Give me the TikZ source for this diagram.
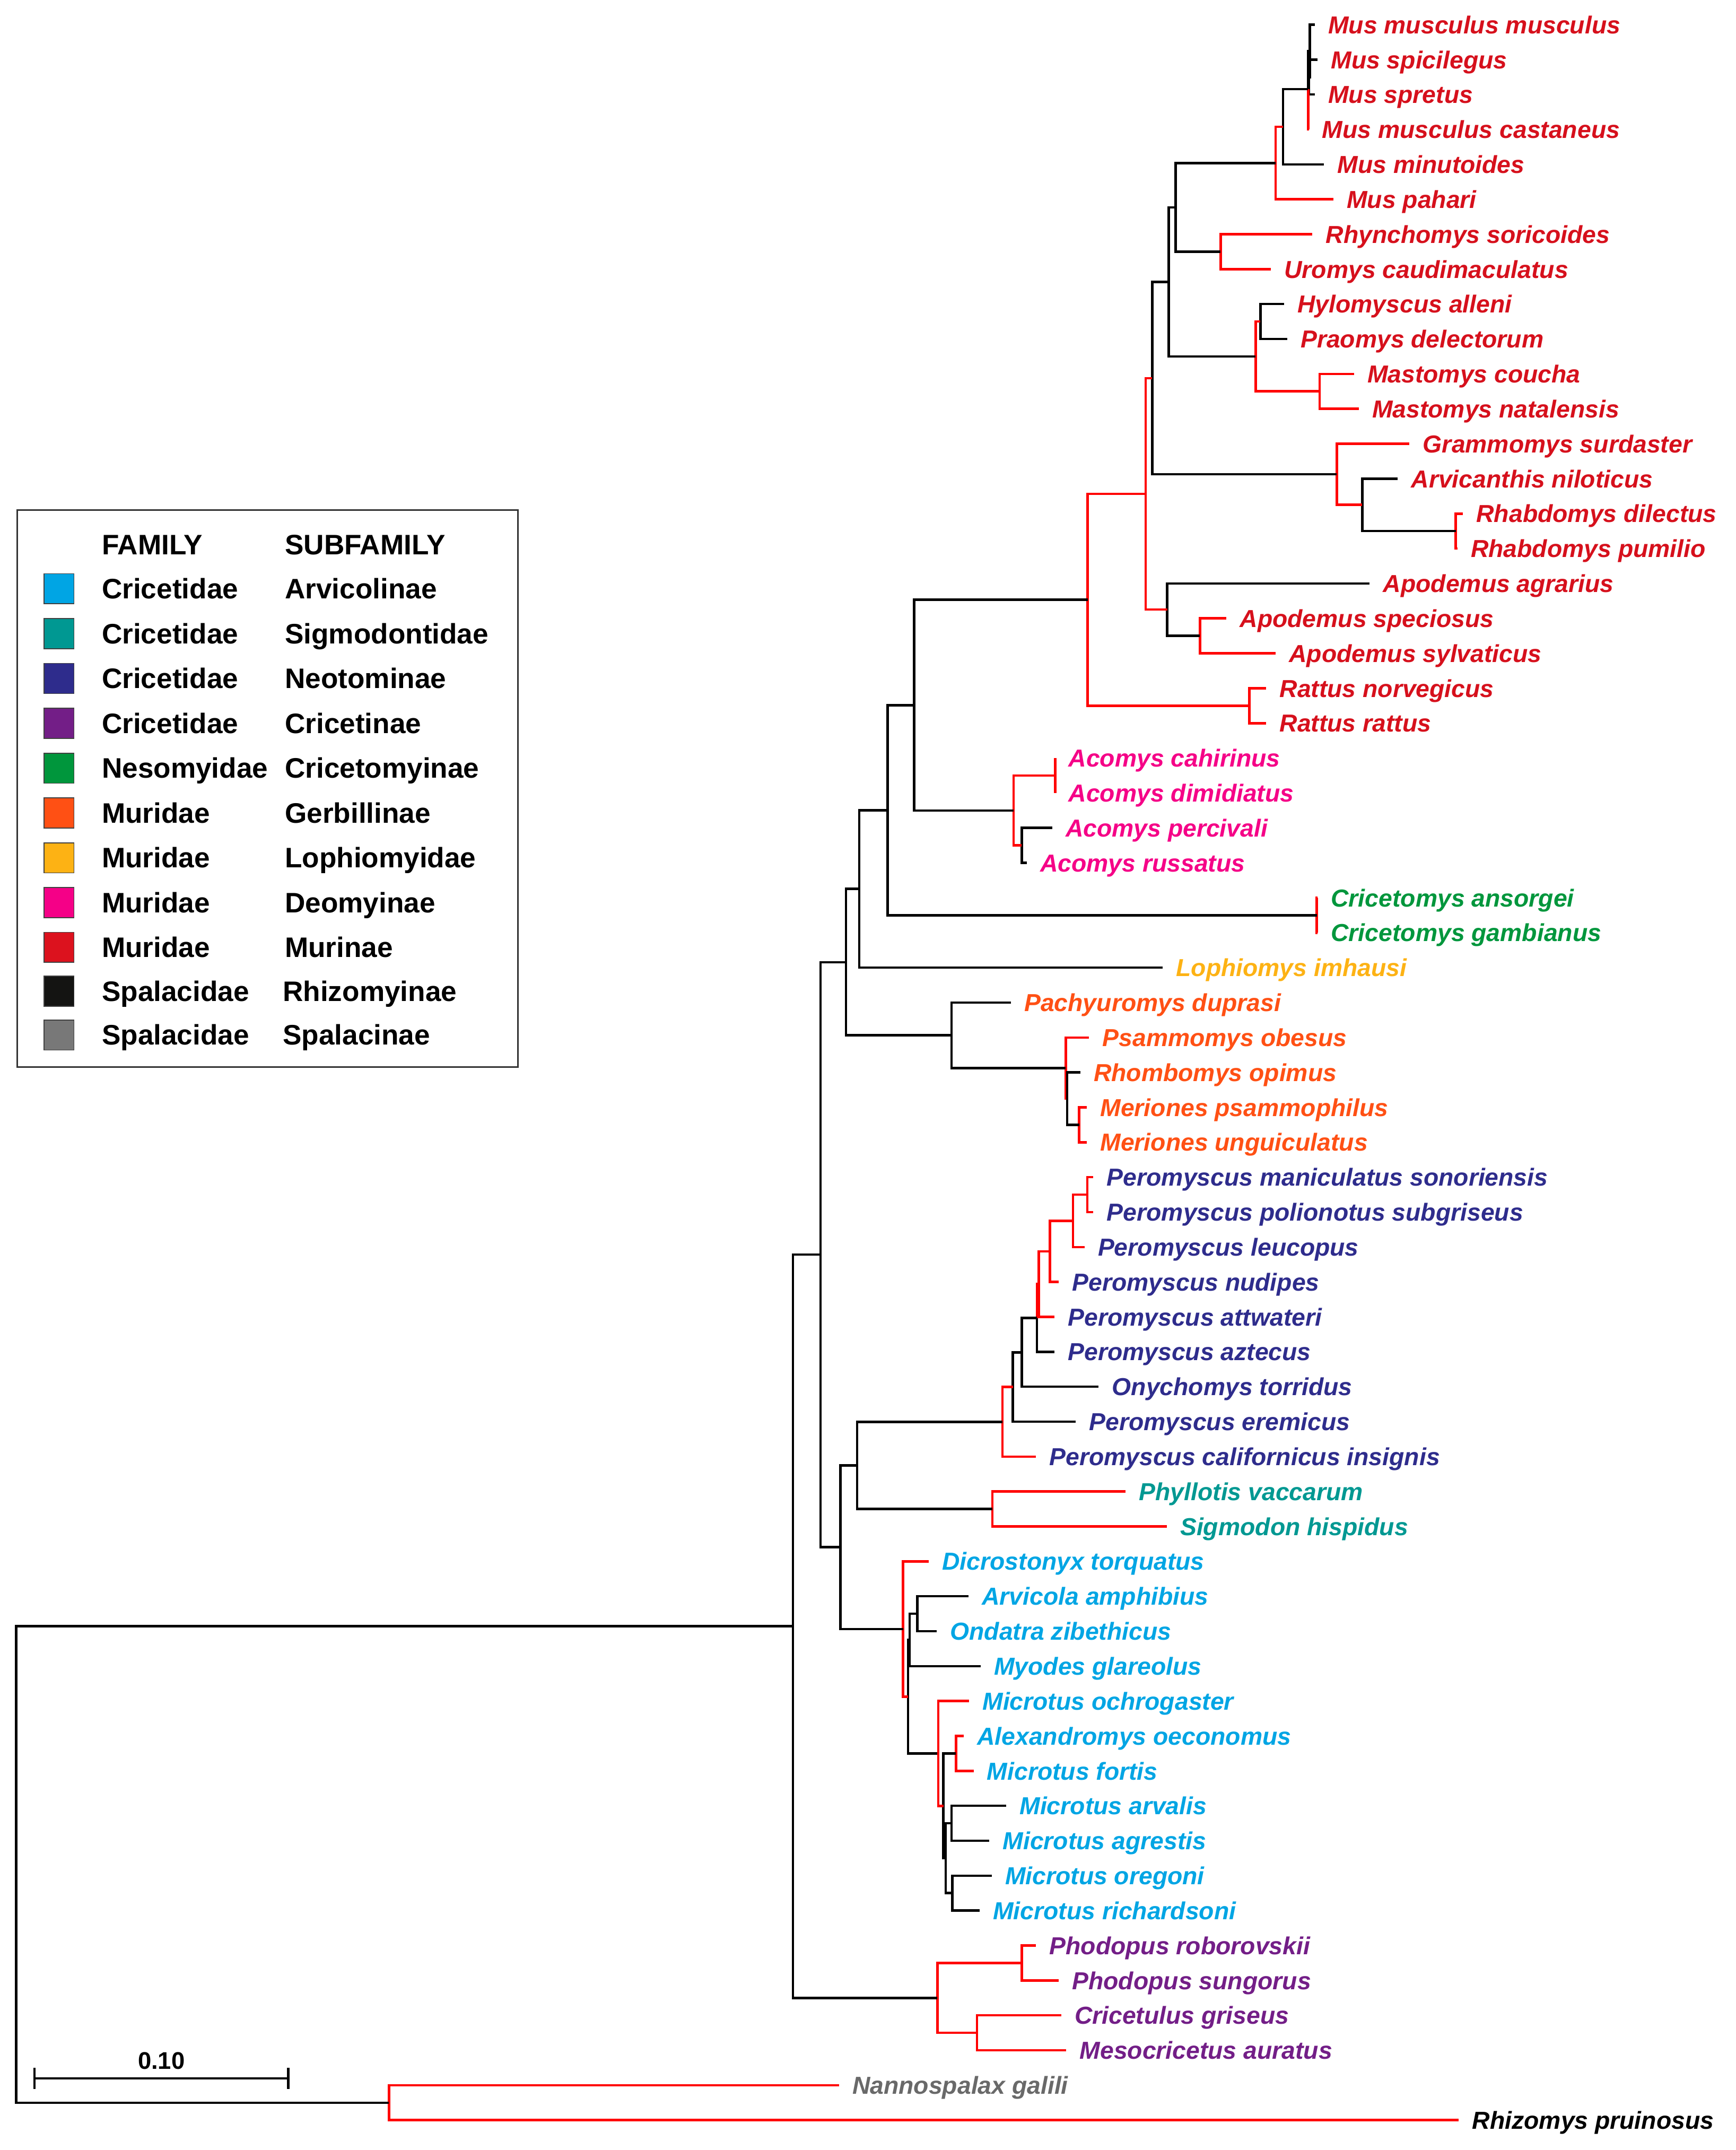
\documentclass[tikz,border=0pt]{standalone}
\usepackage{fontspec}
\setmainfont{Liberation Sans}
\definecolor{murc}{RGB}{214,16,28}
\definecolor{deoc}{RGB}{245,0,135}
\definecolor{nesc}{RGB}{0,150,60}
\definecolor{lopc}{RGB}{253,178,20}
\definecolor{gerc}{RGB}{255,80,20}
\definecolor{neoc}{RGB}{46,44,140}
\definecolor{sigc}{RGB}{0,152,146}
\definecolor{arvc}{RGB}{0,165,228}
\definecolor{cric}{RGB}{115,30,135}
\definecolor{spac}{RGB}{105,105,105}
\definecolor{murs}{RGB}{220,18,30}
\definecolor{rhis}{RGB}{20,20,18}
\definecolor{spas}{RGB}{120,120,120}
\newcommand\ry[1]{18+(#1-1)*25.47}
\begin{document}
\begin{tikzpicture}[x=0.02cm,y=-0.02cm,
  bk/.style={line width=1pt,black},
  rd/.style={line width=1pt,red},
  sp/.style={anchor=base west,inner sep=0pt,xshift=0.19cm,yshift=-0.129cm,
    font=\fontsize{10.2}{12}\selectfont\bfseries\itshape},
  lg/.style={anchor=base west,inner sep=0pt,yshift=-0.146cm,
    font=\fontsize{11.7}{13}\selectfont\bfseries},
  swatch/.style={draw=black!75,line width=0.4pt,minimum size=0.44cm,inner sep=0pt}]
\useasboundingbox (0,0) rectangle (1266,1568);

\coordinate (mmm) at (959,{\ry{1}});
\coordinate (spi) at (961,{\ry{2}});
\coordinate (spr) at (959,{\ry{3}});
\coordinate (cas) at (954.6,{\ry{4}});
\coordinate (min) at (965.8,{\ry{5}});
\coordinate (pah) at (972.5,{\ry{6}});
\coordinate (rhy) at (957.2,{\ry{7}});
\coordinate (uro) at (926.9,{\ry{8}});
\coordinate (hyl) at (936.6,{\ry{9}});
\coordinate (pra) at (938.8,{\ry{10}});
\coordinate (mco) at (987.5,{\ry{11}});
\coordinate (mna) at (991,{\ry{12}});
\coordinate (gra) at (1028.1,{\ry{13}});
\coordinate (ani) at (1019.5,{\ry{14}});
\coordinate (rdi) at (1067,{\ry{15}});
\coordinate (rpu) at (1063,{\ry{16}});
\coordinate (aag) at (999,{\ry{17}});
\coordinate (asp) at (894.5,{\ry{18}});
\coordinate (asy) at (930.4,{\ry{19}});
\coordinate (rno) at (923.5,{\ry{20}});
\coordinate (rra) at (923.5,{\ry{21}});
\coordinate (aca) at (769.6,{\ry{22}});
\coordinate (adi) at (769.6,{\ry{23}});
\coordinate (ape) at (767.4,{\ry{24}});
\coordinate (aru) at (748.9,{\ry{25}});
\coordinate (can) at (961,{\ry{26}});
\coordinate (cga) at (961,{\ry{27}});
\coordinate (lop) at (848,{\ry{28}});
\coordinate (pac) at (737.3,{\ry{29}});
\coordinate (psa) at (794.3,{\ry{30}});
\coordinate (rho) at (787.9,{\ry{31}});
\coordinate (mps) at (792.7,{\ry{32}});
\coordinate (mun) at (792.7,{\ry{33}});
\coordinate (pma) at (797.5,{\ry{34}});
\coordinate (ppo) at (797.5,{\ry{35}});
\coordinate (ple) at (791,{\ry{36}});
\coordinate (pnu) at (772.3,{\ry{37}});
\coordinate (pat) at (769.1,{\ry{38}});
\coordinate (paz) at (769.1,{\ry{39}});
\coordinate (ony) at (801.3,{\ry{40}});
\coordinate (per) at (784.6,{\ry{41}});
\coordinate (pca) at (755.6,{\ry{42}});
\coordinate (phy) at (821,{\ry{43}});
\coordinate (sig) at (851,{\ry{44}});
\coordinate (dic) at (677.4,{\ry{45}});
\coordinate (aam) at (706.4,{\ry{46}});
\coordinate (ond) at (683.2,{\ry{47}});
\coordinate (myo) at (715.2,{\ry{48}});
\coordinate (moc) at (706.8,{\ry{49}});
\coordinate (ale) at (702.9,{\ry{50}});
\coordinate (mfo) at (710.1,{\ry{51}});
\coordinate (mar) at (733.9,{\ry{52}});
\coordinate (mag) at (721.6,{\ry{53}});
\coordinate (mor) at (723.3,{\ry{54}});
\coordinate (mri) at (714.5,{\ry{55}});
\coordinate (pro) at (755.6,{\ry{56}});
\coordinate (psu) at (772.2,{\ry{57}});
\coordinate (cgr) at (774,{\ry{58}});
\coordinate (mau) at (777.7,{\ry{59}});
\coordinate (nan) at (611.9,{\ry{60}});
\coordinate (rpr) at (1064,{\ry{61}});

\coordinate (nMc) at (954.6,56.2);
\coordinate (nMb) at (955.4,37.1);
\coordinate (nMa) at (954.2,65);
\coordinate (nMus2) at (935.8,92.4);
\coordinate (nMus) at (930.5,118.9);
\coordinate (nRU) at (890.3,183.6);
\coordinate (nMR) at (857.4,151.2);
\coordinate (nHP) at (919.3,234.5);
\coordinate (nMast) at (962.5,285.4);
\coordinate (nHPM) at (915.9,260);
\coordinate (nB) at (852.4,205.6);
\coordinate (nRh) at (1061.8,387.3);
\coordinate (nAR) at (993.6,368.2);
\coordinate (nGAR) at (975.1,345.9);
\coordinate (nC) at (840.4,275.8);
\coordinate (nApo2) at (875.2,463.7);
\coordinate (nApo) at (851.4,444.6);
\coordinate (nD) at (835.6,360.2);
\coordinate (nRat) at (911.3,514.7);
\coordinate (nE) at (793.3,437.4);
\coordinate (nAc1) at (769.6,565.6);
\coordinate (nAc2) at (745.2,616.5);
\coordinate (nAco) at (739.3,591.1);
\coordinate (nF) at (666.7,514.3);
\coordinate (nCri) at (960.5,667.5);
\coordinate (nG) at (647.5,590.9);
\coordinate (nH) at (626.7,648.3);
\coordinate (nMer) at (787.1,820.3);
\coordinate (nG3) at (778.3,801.2);
\coordinate (nG2) at (777.4,778.9);
\coordinate (nGerb) at (694.1,755);
\coordinate (nI) at (617.1,701.7);
\coordinate (nP1) at (793,871.2);
\coordinate (nP2) at (782.6,890.3);
\coordinate (nP3) at (765.9,912.6);
\coordinate (nP4) at (757.6,936.5);
\coordinate (nP45) at (756.3,961.2);
\coordinate (nP5) at (745.3,986.3);
\coordinate (nP6) at (738.8,1011.5);
\coordinate (nP7) at (731.1,1036.9);
\coordinate (nPS) at (723.8,1100.5);
\coordinate (nK) at (625.2,1068.7);
\coordinate (nAO) at (669,1176.9);
\coordinate (nAMO) at (663.5,1196);
\coordinate (nAF) at (697.3,1278.8);
\coordinate (nAA) at (694,1329.7);
\coordinate (nOG) at (694.6,1380.6);
\coordinate (nMic3) at (689.7,1355.2);
\coordinate (nMic2) at (688.1,1317);
\coordinate (nMic) at (684.3,1278.8);
\coordinate (nArv2) at (662.3,1237.4);
\coordinate (nArv) at (658.7,1188);
\coordinate (nL) at (612.9,1128.4);
\coordinate (nM) at (598.4,915);
\coordinate (nPho) at (745.2,1431.6);
\coordinate (nCM) at (712.6,1482.5);
\coordinate (nCri2) at (683.7,1457.1);
\coordinate (nN) at (578.3,1186);
\coordinate (nSpal) at (283.7,1533.5);
\coordinate (root) at (11.8,1359.8);

\draw[bk] (nMc) |- (spi);
\draw[bk] (nMc) |- (spr);
\draw[bk] (nMb) |- (mmm);
\draw[bk] (nMb) |- (nMc);
\draw[bk] (nMa) |- (nMb);
\draw[rd] (nMa) |- (cas);
\draw[bk] (nMus2) |- (nMa);
\draw[bk] (nMus2) |- (min);
\draw[rd] (nMus) |- (nMus2);
\draw[rd] (nMus) |- (pah);
\draw[rd] (nRU) |- (rhy);
\draw[rd] (nRU) |- (uro);
\draw[bk] (nMR) |- (nMus);
\draw[bk] (nMR) |- (nRU);
\draw[bk] (nHP) |- (hyl);
\draw[bk] (nHP) |- (pra);
\draw[rd] (nMast) |- (mco);
\draw[rd] (nMast) |- (mna);
\draw[rd] (nHPM) |- (nHP);
\draw[rd] (nHPM) |- (nMast);
\draw[bk] (nB) |- (nMR);
\draw[bk] (nB) |- (nHPM);
\draw[rd] (nRh) |- (rdi);
\draw[rd] (nRh) |- (rpu);
\draw[bk] (nAR) |- (ani);
\draw[bk] (nAR) |- (nRh);
\draw[rd] (nGAR) |- (gra);
\draw[rd] (nGAR) |- (nAR);
\draw[bk] (nC) |- (nB);
\draw[bk] (nC) |- (nGAR);
\draw[rd] (nApo2) |- (asp);
\draw[rd] (nApo2) |- (asy);
\draw[bk] (nApo) |- (aag);
\draw[bk] (nApo) |- (nApo2);
\draw[rd] (nD) |- (nC);
\draw[rd] (nD) |- (nApo);
\draw[rd] (nRat) |- (rno);
\draw[rd] (nRat) |- (rra);
\draw[rd] (nE) |- (nD);
\draw[rd] (nE) |- (nRat);

\draw[rd] (nAc1) |- (aca);
\draw[rd] (nAc1) |- (adi);
\draw[bk] (nAc2) |- (ape);
\draw[bk] (nAc2) |- (aru);
\draw[rd] (nAco) |- (nAc1);
\draw[rd] (nAco) |- (nAc2);
\draw[bk] (nF) |- (nE);
\draw[bk] (nF) |- (nAco);
\draw[rd] (nCri) |- (can);
\draw[rd] (nCri) |- (cga);
\draw[bk] (nG) |- (nF);
\draw[bk] (nG) |- (nCri);
\draw[bk] (nH) |- (nG);
\draw[bk] (nH) |- (lop);

\draw[rd] (nMer) |- (mps);
\draw[rd] (nMer) |- (mun);
\draw[rd] (nG2) |- (psa);
\draw[rd] (nG2) |- (nG3);
\draw[bk] (nG3) |- (rho);
\draw[bk] (nG3) |- (nMer);
\draw[bk] (nGerb) |- (pac);
\draw[bk] (nGerb) |- (nG2);
\draw[bk] (nI) |- (nH);
\draw[bk] (nI) |- (nGerb);

\draw[rd] (nP1) |- (pma);
\draw[rd] (nP1) |- (ppo);
\draw[rd] (nP2) |- (nP1);
\draw[rd] (nP2) |- (ple);
\draw[rd] (nP3) |- (nP2);
\draw[rd] (nP3) |- (pnu);
\draw[rd] (nP4) |- (nP3);
\draw[rd] (nP4) |- (pat);
\draw[bk] (nP45) |- (paz);
\draw[rd] (nP45) |- (nP4);
\draw[bk] (nP5) |- (nP45);
\draw[bk] (nP5) |- (ony);
\draw[bk] (nP6) |- (nP5);
\draw[bk] (nP6) |- (per);
\draw[rd] (nP7) |- (nP6);
\draw[rd] (nP7) |- (pca);
\draw[rd] (nPS) |- (phy);
\draw[rd] (nPS) |- (sig);
\draw[bk] (nK) |- (nP7);
\draw[bk] (nK) |- (nPS);

\draw[bk] (nAO) |- (aam);
\draw[bk] (nAO) |- (ond);
\draw[bk] (nAMO) |- (nAO);
\draw[bk] (nAMO) |- (myo);
\draw[rd] (nAF) |- (ale);
\draw[rd] (nAF) |- (mfo);
\draw[bk] (nAA) |- (mar);
\draw[bk] (nAA) |- (mag);
\draw[bk] (nOG) |- (mor);
\draw[bk] (nOG) |- (mri);
\draw[bk] (nMic3) |- (nAA);
\draw[bk] (nMic3) |- (nOG);
\draw[bk] (nMic2) |- (nAF);
\draw[bk] (nMic2) |- (nMic3);
\draw[bk] (nArv2) |- (nAMO);
\draw[bk] (nArv2) |- (nMic);
\draw[rd] (nMic) |- (moc);
\draw[rd] (nMic) |- (nMic2);
\draw[rd] (nArv) |- (dic);
\draw[rd] (nArv) |- (nArv2);
\draw[bk] (nL) |- (nK);
\draw[bk] (nL) |- (nArv);
\draw[bk] (nM) |- (nI);
\draw[bk] (nM) |- (nL);

\draw[rd] (nPho) |- (pro);
\draw[rd] (nPho) |- (psu);
\draw[rd] (nCM) |- (cgr);
\draw[rd] (nCM) |- (mau);
\draw[rd] (nCri2) |- (nPho);
\draw[rd] (nCri2) |- (nCM);
\draw[bk] (nN) |- (nM);
\draw[bk] (nN) |- (nCri2);
\draw[rd] (nSpal) |- (nan);
\draw[rd] (nSpal) |- (rpr);
\draw[bk] (root) |- (nN);
\draw[bk] (root) |- (nSpal);

\node[sp,text=murc] (Lmmm) at (mmm) {Mus musculus musculus};
\node[sp,text=murc] (Lspi) at (spi) {Mus spicilegus};
\node[sp,text=murc] (Lspr) at (spr) {Mus spretus};
\node[sp,text=murc] (Lcas) at (cas) {Mus musculus castaneus};
\node[sp,text=murc] (Lmin) at (min) {Mus minutoides};
\node[sp,text=murc] (Lpah) at (pah) {Mus pahari};
\node[sp,text=murc] (Lrhy) at (rhy) {Rhynchomys soricoides};
\node[sp,text=murc] (Luro) at (uro) {Uromys caudimaculatus};
\node[sp,text=murc] (Lhyl) at (hyl) {Hylomyscus alleni};
\node[sp,text=murc] (Lpra) at (pra) {Praomys delectorum};
\node[sp,text=murc] (Lmco) at (mco) {Mastomys coucha};
\node[sp,text=murc] (Lmna) at (mna) {Mastomys natalensis};
\node[sp,text=murc] (Lgra) at (gra) {Grammomys surdaster};
\node[sp,text=murc] (Lani) at (ani) {Arvicanthis niloticus};
\node[sp,text=murc] (Lrdi) at (rdi) {Rhabdomys dilectus};
\node[sp,text=murc] (Lrpu) at (rpu) {Rhabdomys pumilio};
\node[sp,text=murc] (Laag) at (aag) {Apodemus agrarius};
\node[sp,text=murc] (Lasp) at (asp) {Apodemus speciosus};
\node[sp,text=murc] (Lasy) at (asy) {Apodemus sylvaticus};
\node[sp,text=murc] (Lrno) at (rno) {Rattus norvegicus};
\node[sp,text=murc] (Lrra) at (rra) {Rattus rattus};
\node[sp,text=deoc] (Laca) at (aca) {Acomys cahirinus};
\node[sp,text=deoc] (Ladi) at (adi) {Acomys dimidiatus};
\node[sp,text=deoc] (Lape) at (ape) {Acomys percivali};
\node[sp,text=deoc] (Laru) at (aru) {Acomys russatus};
\node[sp,text=nesc] (Lcan) at (can) {Cricetomys ansorgei};
\node[sp,text=nesc] (Lcga) at (cga) {Cricetomys gambianus};
\node[sp,text=lopc] (Llop) at (lop) {Lophiomys imhausi};
\node[sp,text=gerc] (Lpac) at (pac) {Pachyuromys duprasi};
\node[sp,text=gerc] (Lpsa) at (psa) {Psammomys obesus};
\node[sp,text=gerc] (Lrho) at (rho) {Rhombomys opimus};
\node[sp,text=gerc] (Lmps) at (mps) {Meriones psammophilus};
\node[sp,text=gerc] (Lmun) at (mun) {Meriones unguiculatus};
\node[sp,text=neoc] (Lpma) at (pma) {Peromyscus maniculatus sonoriensis};
\node[sp,text=neoc] (Lppo) at (ppo) {Peromyscus polionotus subgriseus};
\node[sp,text=neoc] (Lple) at (ple) {Peromyscus leucopus};
\node[sp,text=neoc] (Lpnu) at (pnu) {Peromyscus nudipes};
\node[sp,text=neoc] (Lpat) at (pat) {Peromyscus attwateri};
\node[sp,text=neoc] (Lpaz) at (paz) {Peromyscus aztecus};
\node[sp,text=neoc] (Lony) at (ony) {Onychomys torridus};
\node[sp,text=neoc] (Lper) at (per) {Peromyscus eremicus};
\node[sp,text=neoc] (Lpca) at (pca) {Peromyscus californicus insignis};
\node[sp,text=sigc] (Lphy) at (phy) {Phyllotis vaccarum};
\node[sp,text=sigc] (Lsig) at (sig) {Sigmodon hispidus};
\node[sp,text=arvc] (Ldic) at (dic) {Dicrostonyx torquatus};
\node[sp,text=arvc] (Laam) at (aam) {Arvicola amphibius};
\node[sp,text=arvc] (Lond) at (ond) {Ondatra zibethicus};
\node[sp,text=arvc] (Lmyo) at (myo) {Myodes glareolus};
\node[sp,text=arvc] (Lmoc) at (moc) {Microtus ochrogaster};
\node[sp,text=arvc] (Lale) at (ale) {Alexandromys oeconomus};
\node[sp,text=arvc] (Lmfo) at (mfo) {Microtus fortis};
\node[sp,text=arvc] (Lmar) at (mar) {Microtus arvalis};
\node[sp,text=arvc] (Lmag) at (mag) {Microtus agrestis};
\node[sp,text=arvc] (Lmor) at (mor) {Microtus oregoni};
\node[sp,text=arvc] (Lmri) at (mri) {Microtus richardsoni};
\node[sp,text=cric] (Lpro) at (pro) {Phodopus roborovskii};
\node[sp,text=cric] (Lpsu) at (psu) {Phodopus sungorus};
\node[sp,text=cric] (Lcgr) at (cgr) {Cricetulus griseus};
\node[sp,text=cric] (Lmau) at (mau) {Mesocricetus auratus};
\node[sp,text=spac] (Lnan) at (nan) {Nannospalax galili};
\node[sp,text=black] (Lrpr) at (rpr) {Rhizomys pruinosus};

\draw[line width=0.65pt,black!80] (12.4,371.9) rectangle (377.9,778.3);
\node[lg] (hfam) at (74,397.2) {FAMILY};
\node[lg] (hsub) at (207.5,397.2) {SUBFAMILY};
\node[swatch,fill=arvc] (sw1) at (43,429.4) {};
\node[lg] (fam1) at (74,429.4) {Cricetidae};
\node[lg] (sub1) at (207.5,429.4) {Arvicolinae};
\node[swatch,fill=sigc] (sw2) at (43,462.1) {};
\node[lg] (fam2) at (74,462.1) {Cricetidae};
\node[lg] (sub2) at (207.5,462.1) {Sigmodontidae};
\node[swatch,fill=neoc] (sw3) at (43,494.8) {};
\node[lg] (fam3) at (74,494.8) {Cricetidae};
\node[lg] (sub3) at (207.5,494.8) {Neotominae};
\node[swatch,fill=cric] (sw4) at (43,527.5) {};
\node[lg] (fam4) at (74,527.5) {Cricetidae};
\node[lg] (sub4) at (207.5,527.5) {Cricetinae};
\node[swatch,fill=nesc] (sw5) at (43,560.2) {};
\node[lg] (fam5) at (74,560.2) {Nesomyidae};
\node[lg] (sub5) at (207.5,560.2) {Cricetomyinae};
\node[swatch,fill=gerc] (sw6) at (43,592.9) {};
\node[lg] (fam6) at (74,592.9) {Muridae};
\node[lg] (sub6) at (207.5,592.9) {Gerbillinae};
\node[swatch,fill=lopc] (sw7) at (43,625.6) {};
\node[lg] (fam7) at (74,625.6) {Muridae};
\node[lg] (sub7) at (207.5,625.6) {Lophiomyidae};
\node[swatch,fill=deoc] (sw8) at (43,658.3) {};
\node[lg] (fam8) at (74,658.3) {Muridae};
\node[lg] (sub8) at (207.5,658.3) {Deomyinae};
\node[swatch,fill=murs] (sw9) at (43,690.9) {};
\node[lg] (fam9) at (74,690.9) {Muridae};
\node[lg] (sub9) at (207.5,690.9) {Murinae};
\node[swatch,fill=rhis] (sw10) at (43,722.9) {};
\node[lg] (fam10) at (74,722.9) {Spalacidae};
\node[lg] (sub10) at (206,722.9) {Rhizomyinae};
\node[swatch,fill=spas] (sw11) at (43,754.8) {};
\node[lg] (fam11) at (74,754.8) {Spalacidae};
\node[lg] (sub11) at (206,754.8) {Spalacinae};

\coordinate (sbL) at (25.2,1515.8);
\coordinate (sbR) at (210.2,1515.8);
\draw[bk] (sbL) -- (sbR);
\draw[bk] ([yshift=0.155cm]sbL) -- ([yshift=-0.155cm]sbL);
\draw[bk] ([yshift=0.155cm]sbR) -- ([yshift=-0.155cm]sbR);
\node[anchor=base,inner sep=0pt,font=\fontsize{10}{12}\selectfont\bfseries] (sbT) at (117.7,1509) {0.10};
\end{tikzpicture}
\end{document}
